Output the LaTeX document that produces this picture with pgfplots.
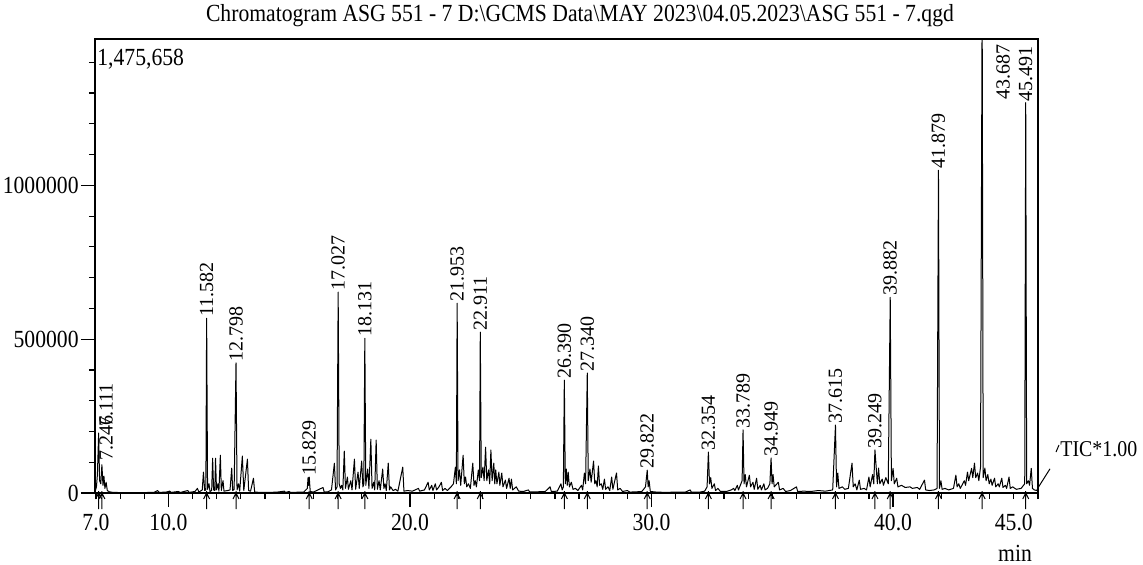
\documentclass[border=0pt]{standalone}
\usepackage{fontspec}
\setmainfont{Liberation Serif}[FakeStretch=0.88]
\newfontfamily\peakfont{Liberation Serif}
\usepackage{pgfplots}
\pgfplotsset{compat=1.18}
\newcommand\lbl{\fontsize{12.3}{14}\selectfont}

% integration mark drawn under each labelled peak
\pgfdeclareplotmark{pk}{%
  \pgfpathmoveto{\pgfqpoint{0pt}{1pt}}\pgfpathlineto{\pgfqpoint{0pt}{-8pt}}%
  \pgfpathmoveto{\pgfqpoint{-1.5pt}{-3pt}}\pgfpathlineto{\pgfqpoint{0pt}{0pt}}%
  \pgfpathlineto{\pgfqpoint{1.5pt}{-3pt}}%
  \pgfusepathqstroke}

\begin{document}
\begin{tikzpicture}
\path[use as bounding box] (-47.5pt,-35.5pt) rectangle (524pt,246.5pt);
\begin{axis}[%
    scale only axis,
    width=471.5pt, height=227pt,
    xmin=6.96, xmax=46.0,
    ymin=0, ymax=1475658,
    axis line style={line width=0.7pt},
    tick align=outside,
    xtick pos=left, ytick pos=left,
    xtick={10,20,30,40},
    xticklabels={10.0,20.0,30.0,40.0},
    extra x ticks={7,45},
    extra x tick labels={7.0,45.0},
    extra x tick style={major tick length=3pt, xticklabel style={yshift=-4pt}},
    minor xtick={8,9,11,12,13,14,15,16,17,18,19,21,22,23,24,25,26,27,28,29,
                 31,32,33,34,35,36,37,38,39,41,42,43,44,46},
    ytick={0,500000,1000000},
    yticklabels={0,500000,1000000},
    scaled y ticks=false,
    minor ytick={100000,200000,300000,400000,600000,700000,800000,900000,
                 1100000,1200000,1300000,1400000},
    major tick length=7pt, minor tick length=3pt,
    tick style={line width=0.6pt, black},
    tick label style={font=\lbl},
    yticklabel style={inner sep=1pt},
    title={Chromatogram ASG 551 - 7 D:\textbackslash GCMS Data\textbackslash MAY 2023\textbackslash 04.05.2023\textbackslash ASG 551 - 7.qgd},
    title style={at={(axis description cs:0.5143,1)}, anchor=base, yshift=3pt,
                 inner sep=0pt, font=\lbl},
    xlabel={min},
    xlabel style={at={(axis description cs:0.9756,0)}, anchor=base,
                  yshift=-34pt, inner sep=0pt, font=\lbl},
  ]
% TRACE: TIC
\addplot[black, line width=0.5pt, mark=none, line join=round] coordinates {
  (6.96,3000) (7.02,20000) (7.06,60000) (7.111,195000) (7.15,40000) (7.20,30000)
  (7.246,92000) (7.29,25000) (7.33,55000) (7.37,15000) (7.42,35000) (7.47,8000)
  (7.55,4000) (7.7,2000) (8.0,1500) (8.5,1500) (9.0,1500) (9.4,2000) (9.55,8000)
  (9.62,2000) (9.9,3000) (10.05,6000) (10.12,2000) (10.4,5000) (10.5,2000)
  (10.8,8000) (10.86,2000) (11.1,5000) (11.2,15000) (11.26,3000) (11.40,10000)
  (11.45,68000) (11.50,8000) (11.55,10000) (11.582,568000) (11.62,12000)
  (11.68,30000) (11.72,5000) (11.79,8000) (11.83,113000) (11.87,10000)
  (11.92,8000) (11.95,113000) (11.99,10000) (12.05,30000) (12.09,6000)
  (12.15,123000) (12.19,8000) (12.26,40000) (12.30,6000) (12.45,8000)
  (12.55,10000) (12.62,81000) (12.66,8000) (12.72,12000) (12.798,423000)
  (12.84,10000) (12.9,30000) (12.95,6000) (13.06,120000) (13.12,8000)
  (13.27,110000) (13.32,8000) (13.40,6000) (13.52,48000) (13.57,3000)
  (13.8,2000) (14.2,2000) (14.5,3000) (14.8,6000) (14.85,2000) (15.0,5000)
  (15.05,2000) (15.6,3000) (15.75,15000) (15.78,50000) (15.81,25000)
  (15.829,52000) (15.87,5000) (16.0,3000) (16.4,18000) (16.45,3000)
  (16.6,4000) (16.75,10000) (16.87,97000) (16.92,10000) (16.98,20000)
  (17.027,653000) (17.07,30000) (17.12,15000) (17.17,25000) (17.22,10000)
  (17.28,136000) (17.33,15000) (17.41,52000) (17.45,12000) (17.55,40000)
  (17.6,10000) (17.7,110000) (17.75,12000) (17.85,68000) (17.9,15000)
  (18.0,104000) (18.05,20000) (18.09,30000) (18.131,503000) (18.17,25000)
  (18.25,78000) (18.3,15000) (18.38,175000) (18.43,15000) (18.5,35000)
  (18.54,10000) (18.6,172000) (18.65,12000) (18.72,40000) (18.77,10000)
  (18.87,78000) (18.92,15000) (18.97,30000) (19.02,8000) (19.1,97000)
  (19.15,10000) (19.2,20000) (19.3,8000) (19.4,12000) (19.5,6000)
  (19.7,84000) (19.75,6000) (19.9,8000) (20.1,6000) (20.35,15000)
  (20.4,6000) (20.6,10000) (20.75,35000) (20.8,10000) (20.9,25000)
  (20.95,8000) (21.05,30000) (21.1,10000) (21.2,20000) (21.3,35000)
  (21.35,8000) (21.45,15000) (21.55,8000) (21.7,20000) (21.8,30000)
  (21.88,84000) (21.92,30000) (21.953,617000) (21.99,40000) (22.05,75000)
  (22.1,25000) (22.2,123000) (22.25,30000) (22.3,52000) (22.35,20000)
  (22.42,30000) (22.5,15000) (22.6,97000) (22.65,25000) (22.7,40000)
  (22.75,20000) (22.83,75000) (22.88,40000) (22.911,523000) (22.95,50000)
  (23.02,84000) (23.07,40000) (23.13,149000) (23.18,40000) (23.25,75000)
  (23.3,30000) (23.35,140000) (23.4,40000) (23.47,97000) (23.51,30000)
  (23.55,75000) (23.6,30000) (23.68,68000) (23.72,25000) (23.8,65000)
  (23.85,20000) (23.95,42000) (24.0,15000) (24.1,48000) (24.15,15000)
  (24.2,45000) (24.25,10000) (24.4,20000) (24.5,6000) (24.7,5000)
  (24.9,10000) (24.95,4000) (25.3,4000) (25.6,5000) (25.8,20000)
  (25.85,5000) (26.1,6000) (26.25,30000) (26.3,10000) (26.35,20000)
  (26.39,367000) (26.43,30000) (26.47,78000) (26.51,25000) (26.55,68000)
  (26.6,20000) (26.68,35000) (26.75,12000) (26.85,15000) (26.95,8000)
  (27.1,25000) (27.15,10000) (27.22,65000) (27.27,30000) (27.34,390000)
  (27.38,40000) (27.45,78000) (27.5,35000) (27.6,104000) (27.65,30000)
  (27.7,40000) (27.75,20000) (27.8,88000) (27.85,25000) (27.92,30000)
  (27.98,12000) (28.05,45000) (28.1,12000) (28.2,20000) (28.27,8000)
  (28.35,52000) (28.4,12000) (28.55,65000) (28.6,10000) (28.7,15000)
  (28.8,5000) (29.0,8000) (29.1,3000) (29.4,4000) (29.6,5000) (29.75,20000)
  (29.822,74000) (29.86,20000) (29.9,40000) (29.95,5000) (30.2,3000)
  (30.6,2000) (31.0,3000) (31.4,3000) (31.6,10000) (31.65,3000) (32.0,3000)
  (32.2,6000) (32.3,20000) (32.354,133000) (32.4,30000) (32.45,50000)
  (32.5,15000) (32.6,30000) (32.65,8000) (32.75,15000) (32.85,5000)
  (33.1,5000) (33.3,10000) (33.4,15000) (33.45,8000) (33.55,25000)
  (33.6,10000) (33.7,30000) (33.75,40000) (33.789,205000) (33.83,30000)
  (33.88,60000) (33.93,20000) (34.05,58000) (34.1,20000) (34.2,35000)
  (34.25,12000) (34.35,48000) (34.4,12000) (34.5,25000) (34.55,10000)
  (34.65,30000) (34.7,10000) (34.8,15000) (34.9,30000) (34.949,114000)
  (34.99,30000) (35.03,60000) (35.08,20000) (35.25,35000) (35.3,10000)
  (35.45,15000) (35.55,5000) (35.75,8000) (36.0,20000) (36.05,5000)
  (36.3,6000) (36.6,5000) (36.9,8000) (37.2,6000) (37.5,10000)
  (37.615,221000) (37.66,20000) (37.71,65000) (37.76,15000) (37.9,20000)
  (38.0,12000) (38.15,15000) (38.3,97000) (38.35,20000) (38.43,30000)
  (38.5,10000) (38.6,42000) (38.65,12000) (38.8,15000) (38.9,10000)
  (39.0,52000) (39.05,20000) (39.15,60000) (39.2,30000) (39.249,140000)
  (39.3,84000) (39.35,30000) (39.4,81000) (39.45,30000) (39.55,45000)
  (39.6,25000) (39.7,50000) (39.8,30000) (39.882,636000) (39.93,40000)
  (40.0,80000) (40.05,30000) (40.15,48000) (40.2,20000) (40.35,25000)
  (40.5,18000) (40.7,20000) (40.8,15000) (41.0,18000) (41.1,12000)
  (41.3,42000) (41.35,10000) (41.5,8000) (41.7,10000) (41.82,15000)
  (41.879,1049000) (41.92,15000) (41.98,40000) (42.03,12000) (42.15,15000)
  (42.3,10000) (42.5,15000) (42.6,58000) (42.65,20000) (42.72,30000)
  (42.78,15000) (42.85,25000) (42.95,40000) (43.0,25000) (43.08,68000)
  (43.13,40000) (43.25,80000) (43.3,50000) (43.37,97000) (43.42,50000)
  (43.5,65000) (43.55,40000) (43.62,84000) (43.687,1600000) (43.73,50000)
  (43.8,81000) (43.85,40000) (43.92,60000) (43.98,30000) (44.05,45000)
  (44.1,25000) (44.2,48000) (44.25,20000) (44.35,30000) (44.4,20000)
  (44.5,48000) (44.55,18000) (44.65,25000) (44.7,15000) (44.8,52000)
  (44.85,15000) (44.95,20000) (45.1,12000) (45.3,15000) (45.45,30000)
  (45.491,1269000) (45.53,30000) (45.6,40000) (45.65,25000) (45.72,80000)
  (45.77,15000) (45.85,10000) (45.95,8000) (46.0,17000)
};
% integration marks on the baseline
\addplot[only marks, mark=pk, black, line width=0.5pt] coordinates {
  (7.111,0) (7.246,0) (11.582,0) (12.798,0) (15.829,0) (17.027,0) (18.131,0)
  (21.953,0) (22.911,0) (26.390,0) (27.340,0) (29.822,0) (32.354,0) (33.789,0)
  (34.949,0) (37.615,0) (39.249,0) (39.882,0) (41.879,0) (43.687,0) (45.491,0)
};
% retention-time labels
\addplot[draw=none, mark=none, nodes near coords, point meta=explicit symbolic,
  every node near coord/.append style={rotate=90, anchor=west, inner sep=0.5pt,
    font=\peakfont\fontsize{10}{12}\selectfont, black}]
  table[x=t, y=h, meta=lab] {
  t      h       lab
  7.42   100000  7.246
  7.42   211000  7.111
  11.582 568000  11.582
  12.798 423000  12.798
  15.829 52000   15.829
  17.027 653000  17.027
  18.131 503000  18.131
  21.953 617000  21.953
  22.911 523000  22.911
  26.390 367000  26.390
  27.340 390000  27.340
  29.822 74000   29.822
  32.354 133000  32.354
  33.789 205000  33.789
  34.949 114000  34.949
  37.615 221000  37.615
  39.249 140000  39.249
  39.882 636000  39.882
  41.879 1049000 41.879
  44.55  1276000 43.687
  45.491 1269000 45.491
};
\node[anchor=base west, inner sep=0pt, font=\lbl, xshift=1pt, yshift=-13pt]
  at (rel axis cs:0,1) {1,475,658};
\coordinate (tE) at (axis cs:46,17000);
\end{axis}
\draw[line width=0.5pt] (tE) -- ++(6pt,9.5pt);
\draw[line width=0.5pt] ([xshift=9pt,yshift=20.5pt]current axis.south east) -- ++(1.5pt,3.5pt);
\node[anchor=west, inner sep=0pt, font=\fontsize{11.3}{13}\selectfont] at ([xshift=11pt,yshift=22pt]current axis.south east) {TIC*1.00};
\end{tikzpicture}
\end{document}
